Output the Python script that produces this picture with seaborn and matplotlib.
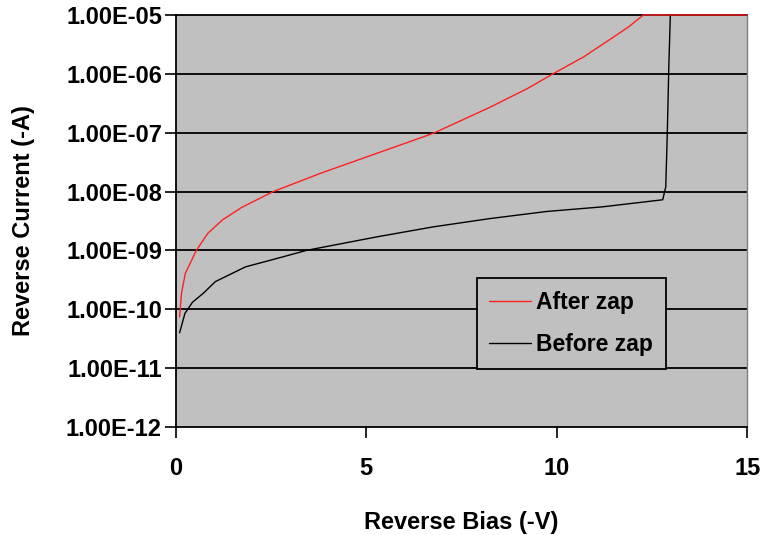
import numpy as np
import pandas as pd
import matplotlib
matplotlib.use("Agg")
import matplotlib.pyplot as plt
import seaborn as sns
from matplotlib.ticker import FuncFormatter, FixedLocator, NullLocator

# Values (bias in -V, current in -A)
after_bias = [0.10, 0.15, 0.25, 0.54, 0.84, 1.23, 1.73, 2.56, 3.80, 5.28, 6.76,
              8.24, 9.23, 9.90, 10.71, 11.50, 11.89, 12.27, 15.0]
after_log_current = [-10.13, -9.73, -9.39, -9.0, -8.71, -8.48, -8.27, -8.0, -7.69,
                     -7.35, -7.01, -6.57, -6.25, -6.0, -5.71, -5.37, -5.2, -5.0, -5.0]

before_bias = [0.10, 0.24, 0.44, 0.72, 1.04, 1.83, 2.81, 3.43, 5.28, 6.76, 8.24,
               9.72, 11.20, 12.78, 12.86, 12.90, 12.94, 12.98, 15.0]
before_log_current = [-10.40, -10.07, -9.88, -9.73, -9.53, -9.28, -9.11, -9.0, -8.77,
                      -8.60, -8.46, -8.34, -8.26, -8.14, -7.92, -7.01, -5.88, -5.0, -5.0]

y_ticks = [1e-12, 1e-11, 1e-10, 1e-9, 1e-8, 1e-7, 1e-6, 1e-5]
x_ticks = [0, 5, 10, 15]

after = pd.DataFrame({"bias": after_bias, "current": np.power(10.0, after_log_current)})
before = pd.DataFrame({"bias": before_bias, "current": np.power(10.0, before_log_current)})

sns.set_style("white")
plt.rcParams["font.family"] = ["Liberation Sans", "DejaVu Sans"]
plt.rcParams["font.weight"] = "bold"
plt.rcParams["text.color"] = "black"
plt.rcParams["axes.labelcolor"] = "black"
plt.rcParams["xtick.color"] = "black"
plt.rcParams["ytick.color"] = "black"

fig = plt.figure(figsize=(7.61, 5.35), dpi=100)
ax = fig.add_axes([0.231, 0.202, 0.751, 0.770])
ax.set_facecolor("#c0c0c0")

sns.lineplot(data=before, x="bias", y="current", ax=ax, color="black", lw=1.0,
             sort=False, estimator=None, label="Before zap", clip_on=False, zorder=3)
sns.lineplot(data=after, x="bias", y="current", ax=ax, color="#ff2020", lw=1.0,
             sort=False, estimator=None, label="After zap", clip_on=False, zorder=4)

ax.set_yscale("log")
ax.set_xlim(0, 15)
ax.set_ylim(1e-12, 1e-5)
ax.yaxis.set_major_locator(FixedLocator(y_ticks))
ax.yaxis.set_minor_locator(NullLocator())
ax.yaxis.set_major_formatter(FuncFormatter(lambda v, p: f"{v:.2E}"))
ax.set_xticks(x_ticks)

for v in y_ticks[1:]:
    ax.axhline(v, color="black", lw=1.3, zorder=0.5, clip_on=False)

ax.tick_params(axis="both", direction="out", length=8, width=1.2, color="black",
               labelsize=17, bottom=True, left=True)
ax.tick_params(axis="x", pad=14)
ax.tick_params(axis="y", pad=2)
for lab in ax.get_xticklabels() + ax.get_yticklabels():
    lab.set_fontweight("bold")

for side in ["left", "bottom"]:
    ax.spines[side].set_color("black")
    ax.spines[side].set_linewidth(1.3)
ax.spines["top"].set_visible(False)
ax.spines["right"].set_color("#808080")
ax.spines["right"].set_linewidth(1.0)

ax.set_xlabel("Reverse Bias (-V)", fontsize=17, fontweight="bold", labelpad=22)
ax.set_ylabel("Reverse Current (-A)", fontsize=17, fontweight="bold", labelpad=22)

handles, labels = ax.get_legend_handles_labels()
leg = ax.legend(handles[::-1], labels[::-1], loc="center",
                bbox_to_anchor=(0.524, 0.138, 0.336, 0.226),
                fancybox=False, frameon=True, fontsize=16.5, handlelength=1.8,
                labelspacing=0.85, borderpad=0.55, handletextpad=0.25,
                borderaxespad=0)
leg.get_frame().set_facecolor("#c0c0c0")
leg.get_frame().set_edgecolor("black")
leg.get_frame().set_linewidth(1.3)
leg.get_frame().set_alpha(1.0)
for t in leg.get_texts():
    t.set_fontweight("bold")

fig.savefig("out.png", dpi=100)
